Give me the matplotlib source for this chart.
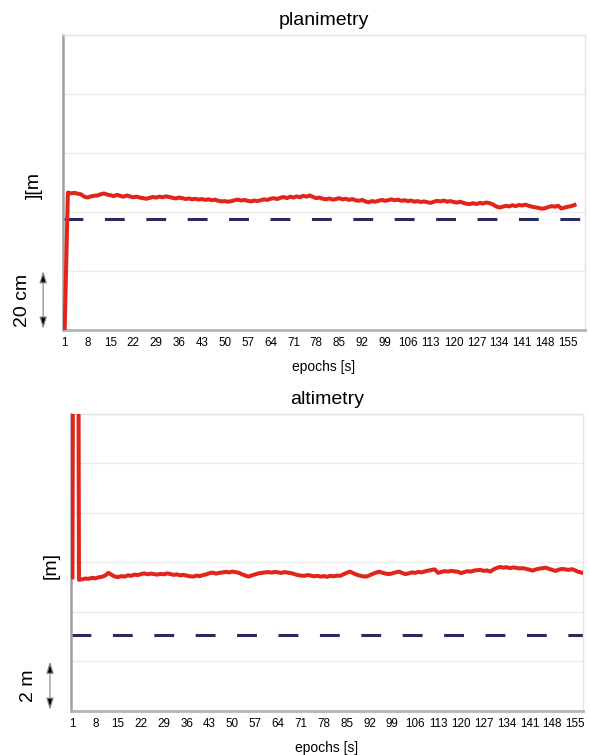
import matplotlib
matplotlib.use('Agg')
import matplotlib.pyplot as plt
import numpy as np

plt.rcParams['font.family'] = ['Liberation Sans', 'DejaVu Sans']

# epochs (x axis) and labelled ticks
epochs = np.arange(1, 158)
tick_epochs = np.arange(1, 156, 7)

# planimetric error [m]
plan_error = [
    0.0,
    0.466, 0.463, 0.465, 0.462, 0.460,
    0.452, 0.449, 0.453, 0.455,
    0.456, 0.460, 0.463, 0.459, 0.457,
    0.454, 0.458, 0.455, 0.452, 0.456,
    0.453, 0.450, 0.452, 0.449, 0.447,
    0.445, 0.448, 0.451, 0.449, 0.452,
    0.450, 0.453, 0.451, 0.448, 0.446,
    0.449, 0.447, 0.444, 0.446, 0.443,
    0.445, 0.442, 0.444, 0.441, 0.443,
    0.440, 0.442, 0.438, 0.436, 0.437,
    0.435, 0.437, 0.440, 0.442, 0.439,
    0.441, 0.438, 0.436, 0.439, 0.437,
    0.440, 0.443, 0.441, 0.445, 0.447,
    0.444, 0.448, 0.451, 0.447, 0.452,
    0.449, 0.453, 0.450, 0.455, 0.452,
    0.456, 0.451, 0.447, 0.449, 0.445,
    0.443, 0.446, 0.442, 0.444, 0.447,
    0.443, 0.445, 0.441, 0.444, 0.440,
    0.438, 0.441, 0.436, 0.433, 0.437,
    0.435, 0.438, 0.441, 0.438, 0.440,
    0.443, 0.440, 0.442, 0.438, 0.440,
    0.437, 0.439, 0.435, 0.437, 0.434,
    0.436, 0.433, 0.431, 0.435, 0.438,
    0.436, 0.439, 0.435, 0.437, 0.434,
    0.432, 0.435, 0.431, 0.428, 0.427,
    0.430, 0.427, 0.431, 0.429, 0.432,
    0.430, 0.426, 0.419, 0.415, 0.418,
    0.421, 0.419, 0.423, 0.420, 0.424,
    0.422, 0.425, 0.421, 0.418, 0.416,
    0.414, 0.411, 0.413, 0.417, 0.420,
    0.418, 0.421, 0.412, 0.415, 0.418,
    0.420, 0.424,
]
plan_ref = 0.376

# altimetric error [m] (epoch 2 is far off the chart)
alt_error = [
    5.40,
    60.0,
    5.30, 5.32, 5.35,
    5.34, 5.38, 5.36, 5.40, 5.42,
    5.47, 5.58, 5.50, 5.43, 5.41,
    5.45, 5.43, 5.48, 5.46, 5.51,
    5.49, 5.53, 5.56, 5.52, 5.55,
    5.53, 5.51, 5.54, 5.52, 5.56,
    5.53, 5.50, 5.52, 5.48, 5.50,
    5.47, 5.44, 5.43, 5.47, 5.45,
    5.49, 5.52, 5.57, 5.59, 5.55,
    5.58, 5.60, 5.62, 5.60, 5.63,
    5.61, 5.58, 5.52, 5.47, 5.43,
    5.48, 5.52, 5.56, 5.58, 5.60,
    5.61, 5.59, 5.62, 5.60, 5.58,
    5.61, 5.59, 5.57, 5.53, 5.49,
    5.47, 5.46, 5.49, 5.47, 5.44,
    5.46, 5.43, 5.45, 5.42, 5.46,
    5.44, 5.47, 5.46, 5.52, 5.58,
    5.63, 5.57, 5.51, 5.47, 5.44,
    5.43, 5.48, 5.54, 5.59, 5.63,
    5.58, 5.55, 5.53, 5.56, 5.60,
    5.63, 5.58, 5.53, 5.56, 5.60,
    5.58, 5.62, 5.60, 5.64, 5.67,
    5.70, 5.72, 5.58, 5.62, 5.65,
    5.63, 5.66, 5.64, 5.63, 5.57,
    5.61, 5.65, 5.63, 5.67, 5.69,
    5.70, 5.66, 5.68, 5.63, 5.72,
    5.78, 5.82, 5.79, 5.81, 5.77,
    5.80, 5.78, 5.76, 5.77, 5.74,
    5.71, 5.67, 5.72, 5.75, 5.77,
    5.79, 5.74, 5.70, 5.66, 5.71,
    5.74, 5.72, 5.70, 5.73, 5.68,
    5.62, 5.59,
]
alt_ref = 3.07

RED = '#e2251b'
NAVY = '#2c2862'
DASH = (0, (6.5, 7.05))


def style_panel(ax, title, ylabel, scale_text, ylim, step, arrow_x, label_x, scale_x):
    ax.set_ylim(*ylim)
    ax.set_yticks(np.arange(ylim[0], ylim[1] + step / 2, step))
    ax.set_yticklabels([])
    ax.tick_params(axis='y', length=0)
    ax.grid(axis='y', color='#ececec', lw=1)
    ax.set_axisbelow(True)
    ax.set_xticks(tick_epochs)
    ax.set_xticklabels([str(t) for t in tick_epochs], fontsize=8.4)
    ax.tick_params(axis='x', length=0, pad=5)
    ax.set_xlabel('epochs [s]', fontsize=10, labelpad=8)
    ax.set_title(title, fontsize=14, pad=7)
    for side in ['top', 'right']:
        ax.spines[side].set_color('#e4e4e4')
        ax.spines[side].set_linewidth(1)
    ax.spines['left'].set_color('#a0a0a0')
    ax.spines['left'].set_linewidth(1.8)
    ax.spines['bottom'].set_color('#b4b4b4')
    ax.spines['bottom'].set_linewidth(2)
    trans = ax.get_yaxis_transform()
    mid = (ylim[1] - ylim[0]) / 2
    ax.text(label_x, mid * 0.98, ylabel, transform=trans, rotation=90,
            fontsize=14, ha='center', va='center')
    ax.text(scale_x, step / 2, scale_text, transform=trans, rotation=90,
            fontsize=14, ha='center', va='center')
    ax.annotate('', xy=(arrow_x, ylim[0] + step * 0.02), xytext=(arrow_x, step * 1.0),
                xycoords=trans, textcoords=trans, annotation_clip=False,
                arrowprops=dict(arrowstyle='<|-|>,head_length=0.7,head_width=0.22',
                                fc='black', ec='#8a8a8a', lw=0.9, shrinkA=0, shrinkB=0))


fig = plt.figure(figsize=(5.9, 7.55), dpi=100)

# planimetry
ax1 = fig.add_axes([0.1068, 0.5629, 0.8847, 0.3907])
ax1.plot(epochs, plan_error, color=RED, lw=2.9, solid_joinstyle='round', zorder=4)
ax1.axhline(plan_ref, color=NAVY, lw=2.2, linestyle=DASH, dash_capstyle='butt')
ax1.set_xlim(0.5, 160.2)
style_panel(ax1, 'planimetry', '][m', '20 cm', (0, 1.0), 0.2,
            arrow_x=-0.038, label_x=-0.054, scale_x=-0.077)

# altimetry
ax2 = fig.add_axes([0.1203, 0.0583, 0.8678, 0.3934])
ax2.plot(epochs, alt_error, color=RED, lw=2.9, solid_joinstyle='round', zorder=4)
ax2.axhline(alt_ref, color=NAVY, lw=2.2, linestyle=DASH, dash_capstyle='butt')
ax2.set_xlim(0.55, 157.4)
style_panel(ax2, 'altimetry', '[m]', '2 m', (0, 12), 2,
            arrow_x=-0.041, label_x=-0.039, scale_x=-0.082)

fig.savefig('out.png', dpi=100)
